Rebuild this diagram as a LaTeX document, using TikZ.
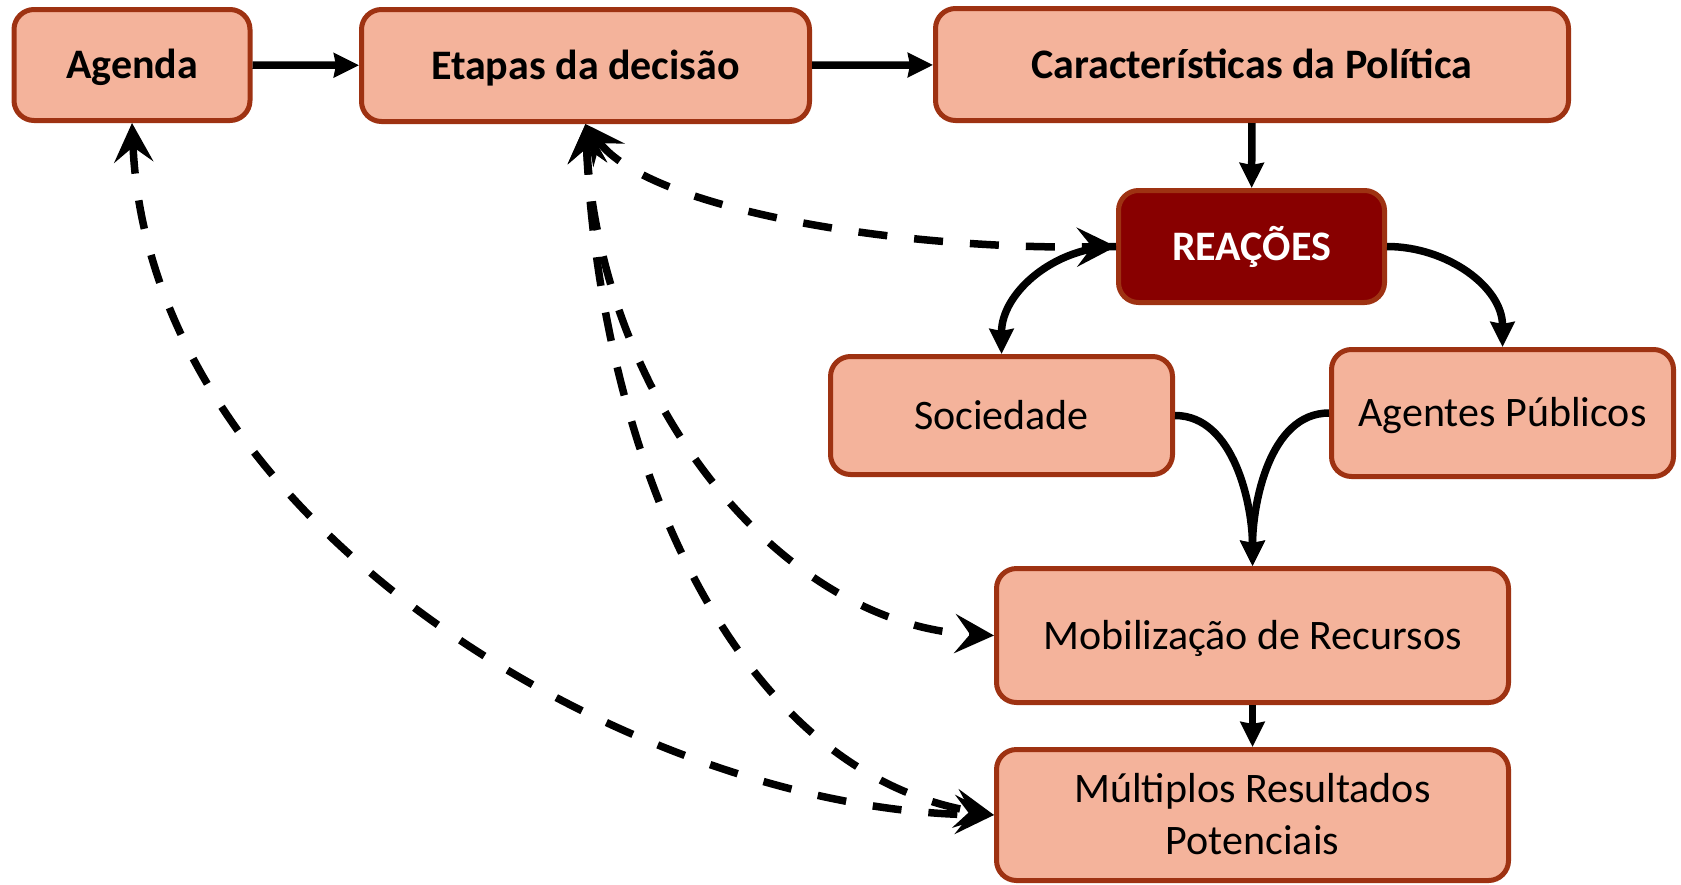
\documentclass[tikz,border=0pt]{standalone}
\usepackage{fontspec}
\setmainfont{Carlito}
\usetikzlibrary{arrows.meta}
\definecolor{boxfill}{HTML}{F4B39B}
\definecolor{boxline}{HTML}{9E3212}
\definecolor{reafill}{HTML}{880000}
\begin{document}
\begin{tikzpicture}[x=1pt,y=-1pt,
  box/.style={draw=boxline, fill=boxfill, line width=5pt, rounded corners=20pt,
    inner sep=0pt, text height=27pt, text depth=0pt, align=center,
    font=\fontsize{42}{52}\selectfont},
  bbox/.style={box, font=\fontsize{42}{52}\selectfont\bfseries},
  conn/.style={line width=7.5pt, -{Stealth[length=25pt,width=24pt,inset=2pt]}},
  dconn/.style={line width=7.5pt, dash pattern=on 29pt off 27pt,
    {Stealth[length=39pt,width=39pt,inset=15pt]}-{Stealth[length=39pt,width=39pt,inset=15pt]}}]
\useasboundingbox (0,0) rectangle (1681,884);

\node[bbox, minimum width=236pt, minimum height=111pt] (agenda) at (132,65) {Agenda};
\node[bbox, minimum width=448pt, minimum height=112pt] (etapas) at (585.5,65.5) {Etapas da decisão};
\node[bbox, minimum width=633pt, minimum height=112pt] (carac) at (1252,64.5) {Características da Política};
\node[bbox, fill=reafill, text=white, minimum width=266pt, minimum height=112pt] (rea) at (1251.5,246.5) {REAÇÕES};
\node[box, minimum width=342pt, minimum height=118pt] (soc) at (1001.5,415.5) {Sociedade};
\node[box, minimum width=342pt, minimum height=127pt] (agp) at (1502.5,413) {Agentes Públicos};
\node[box, minimum width=512pt, minimum height=134pt] (mob) at (1252.5,635.5) {Mobilização de Recursos};
\node[box, text height=79pt, minimum width=512pt, minimum height=131pt] (mult) at (1252.5,815) {Múltiplos Resultados\\Potenciais};

\draw[conn] (agenda) -- (etapas);
\draw[conn] (etapas) -- (carac);
\draw[conn] (carac) -- (rea);
\draw[conn] (mob) -- (mult);
\draw[conn] (rea.west) to[out=180,in=90] (soc.north);
\draw[conn] (rea.east) to[out=0,in=90] (agp.north);
\draw[conn] (soc.east) to[out=0,in=90,looseness=0.9] (mob.north);
\draw[conn] (agp.west) to[out=180,in=90,looseness=0.9] (mob.north);

\draw[dconn] (agenda.south) .. controls (150,530) and (640,810) .. (mult.west);
\draw[dconn] (etapas.south) .. controls (600,400) and (780,625) .. (mob.west);
\draw[dconn] (etapas.south) .. controls (600,450) and (730,770) .. (mult.west);
\draw[dconn] (etapas.south) .. controls (650,210) and (900,250) .. (rea.west);
\end{tikzpicture}
\end{document}
